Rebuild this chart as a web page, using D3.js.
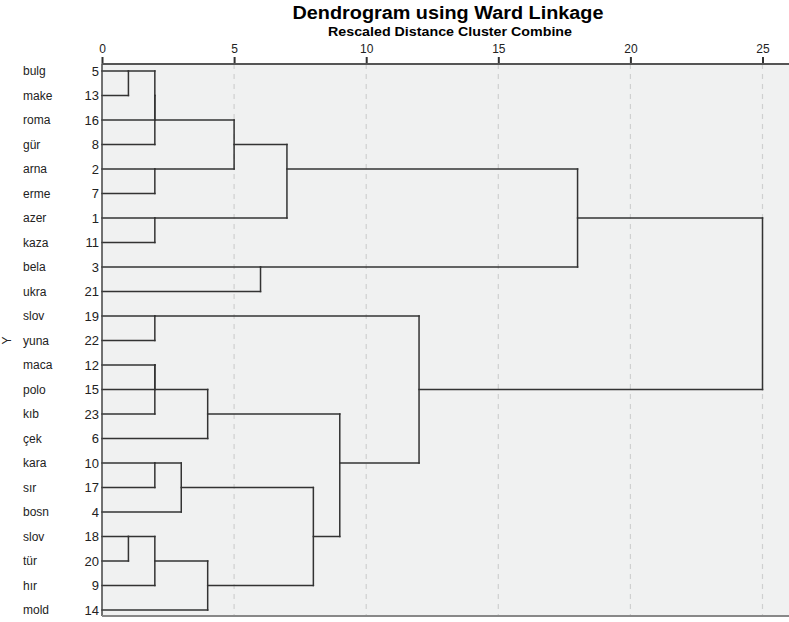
<!DOCTYPE html>
<html>
<head>
<meta charset="utf-8">
<script src="https://cdn.jsdelivr.net/npm/d3@7"></script>
<style>
    body { margin: 0; background: #fff; }
    text { font-family: "Liberation Sans", Arial, sans-serif; }
</style>
</head>
<body>
<svg id="chart"></svg>
<script>
// leaves, top to bottom
let leafNames = ["bulg", "make", "roma", "gür", "arna", "erme", "azer", "kaza", "bela", "ukra", "slov",
    "yuna", "maca", "polo", "kıb", "çek", "kara", "sır", "bosn", "slov", "tür", "hır", "mold"];
let leafCases = [5, 13, 16, 8, 2, 7, 1, 11, 3, 21, 19, 22, 12, 15, 23, 6, 10, 17, 4, 18, 20, 9, 14];

// merges (cluster ids: leaves 0..22, merge k gets id 23 + k)
let mergeLeft = [0, 19, 23, 25, 4, 6, 10, 12, 30, 16, 24, 32, 31, 33, 26, 8, 37, 34, 35, 29, 39, 43];
let mergeRight = [1, 20, 2, 3, 5, 7, 11, 13, 14, 17, 21, 18, 15, 22, 27, 9, 28, 36, 40, 41, 38, 42];
let mergeDist = [1, 1, 2, 2, 2, 2, 2, 2, 2, 2, 2, 3, 4, 4, 5, 6, 7, 8, 9, 12, 18, 25];

let tickValues = [0, 5, 10, 15, 20, 25];

let width = 789, height = 622;
let plot = {left: 102, right: 789, top: 64, bottom: 616};

let svg = d3.select("#chart")
    .attr("width", width)
    .attr("height", height);

let x = d3.scaleLinear()
    .domain([0, 25])
    .range([plot.left, 762.5]);

let y = d3.scaleLinear()
    .domain([0, leafNames.length - 1])
    .range([71, 610]);

// plot background
svg.append("rect")
    .attr("x", plot.left)
    .attr("y", plot.top)
    .attr("width", plot.right - plot.left)
    .attr("height", plot.bottom - plot.top)
    .attr("fill", "#f0f1f1");

// dashed grid lines
svg.selectAll(".grid")
    .data(tickValues.filter(function (d) { return d > 0; }))
    .enter().append("line")
    .attr("class", "grid")
    .attr("x1", function (d) { return x(d); })
    .attr("x2", function (d) { return x(d); })
    .attr("y1", plot.top)
    .attr("y2", plot.bottom)
    .attr("stroke", "#cfd0d0")
    .attr("stroke-width", 1.2)
    .attr("stroke-dasharray", "5,5");

// row of each cluster + height it was formed at
let rowOf = [];
let heightOf = [];
let parentDist = [];
for (let i = 0; i < leafNames.length; i++) {
    rowOf.push(i);
    heightOf.push(0);
}
for (let k = 0; k < mergeDist.length; k++) {
    let a = mergeLeft[k], b = mergeRight[k];
    rowOf.push(Math.floor((rowOf[a] + rowOf[b]) / 2));
    heightOf.push(mergeDist[k]);
    parentDist[a] = mergeDist[k];
    parentDist[b] = mergeDist[k];
}

let segments = [];
for (let c = 0; c < rowOf.length; c++) {
    if (parentDist[c] === undefined) continue;
    segments.push({x1: heightOf[c], x2: parentDist[c], y1: rowOf[c], y2: rowOf[c]});
}
for (let k = 0; k < mergeDist.length; k++) {
    segments.push({
        x1: mergeDist[k], x2: mergeDist[k],
        y1: rowOf[mergeLeft[k]], y2: rowOf[mergeRight[k]]
    });
}

svg.append("g")
    .selectAll("line")
    .data(segments)
    .enter().append("line")
    .attr("x1", function (d) { return x(d.x1); })
    .attr("x2", function (d) { return x(d.x2); })
    .attr("y1", function (d) { return y(d.y1); })
    .attr("y2", function (d) { return y(d.y2); })
    .attr("stroke", "#333")
    .attr("stroke-width", 1.5)
    .attr("stroke-linecap", "square");

// frame: left and bottom
svg.append("line")
    .attr("x1", plot.left).attr("x2", plot.left)
    .attr("y1", plot.top).attr("y2", plot.bottom)
    .attr("stroke", "#444").attr("stroke-width", 1.5);
svg.append("line")
    .attr("x1", plot.left).attr("x2", plot.right)
    .attr("y1", plot.bottom).attr("y2", plot.bottom)
    .attr("stroke", "#888").attr("stroke-width", 2);

// top axis
let axis = svg.append("g")
    .attr("transform", "translate(0," + plot.top + ")")
    .call(d3.axisTop(x).tickValues(tickValues).tickSize(7).tickSizeOuter(0).tickPadding(4));
axis.select(".domain").remove();
axis.append("line")
    .attr("x1", plot.left).attr("x2", plot.right)
    .attr("y1", 0).attr("y2", 0)
    .attr("stroke", "#555").attr("stroke-width", 1.8);
axis.selectAll(".tick line").attr("stroke", "#333").attr("stroke-width", 2);
axis.selectAll(".tick text")
    .attr("fill", "#222")
    .style("font-family", "'Liberation Sans', Arial, sans-serif")
    .style("font-size", "12px");

// leaf labels
let labels = svg.append("g");
labels.selectAll(".name")
    .data(leafNames)
    .enter().append("text")
    .attr("class", "name")
    .attr("x", 23)
    .attr("y", function (d, i) { return y(i) + 4; })
    .style("font-size", "12px")
    .attr("fill", "#222")
    .text(function (d) { return d; });
labels.selectAll(".case")
    .data(leafCases)
    .enter().append("text")
    .attr("class", "case")
    .attr("x", 99)
    .attr("y", function (d, i) { return y(i) + 4.5; })
    .attr("text-anchor", "end")
    .style("font-size", "13px")
    .attr("fill", "#222")
    .text(function (d) { return d; });

// Y axis title
svg.append("text")
    .attr("transform", "translate(11," + y(11) + ") rotate(-90)")
    .attr("text-anchor", "middle")
    .style("font-size", "12px")
    .attr("fill", "#222")
    .text("Y");

// titles
svg.append("text")
    .attr("x", 448)
    .attr("y", 19)
    .attr("text-anchor", "middle")
    .style("font-size", "18px")
    .style("font-weight", "bold")
    .attr("textLength", 311)
    .attr("lengthAdjust", "spacingAndGlyphs")
    .text("Dendrogram using Ward Linkage");
svg.append("text")
    .attr("x", 450)
    .attr("y", 36)
    .attr("text-anchor", "middle")
    .style("font-size", "12px")
    .style("font-weight", "bold")
    .attr("textLength", 244)
    .attr("lengthAdjust", "spacingAndGlyphs")
    .text("Rescaled Distance Cluster Combine");
</script>
</body>
</html>
